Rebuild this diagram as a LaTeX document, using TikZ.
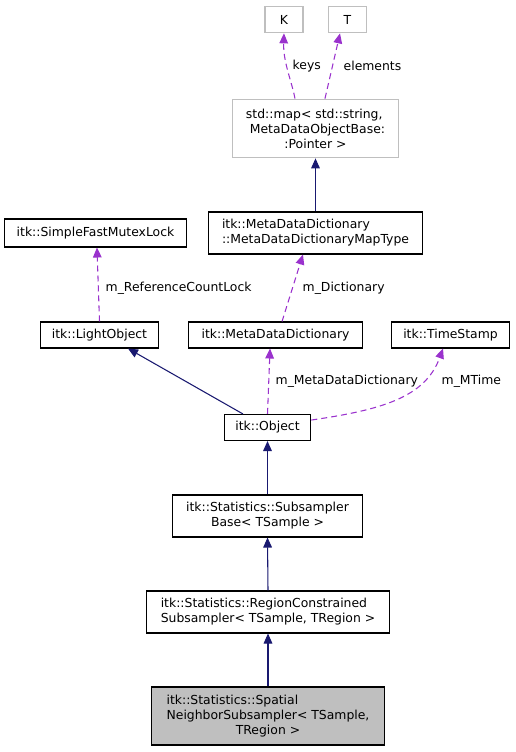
\documentclass[tikz,border=0pt]{standalone}
\usepackage{fontspec}
\setmainfont{DejaVu Sans}
\usetikzlibrary{positioning,arrows.meta}
\definecolor{inhblue}{RGB}{25,25,112}
\definecolor{usepurple}{RGB}{154,50,205}
\definecolor{extgray}{RGB}{191,191,191}

\begin{document}
\begin{tikzpicture}[x=0.75pt, y=-0.75pt, every node/.style={font=\fontsize{9.3}{11.2}\selectfont}]
    \tikzstyle{box}=[draw=black, line width=0.8pt, fill=white, inner sep=0pt, align=left, minimum height=19.5pt]
    \tikzstyle{extbox}=[box, draw=extgray]
    \tikzstyle{inherit}=[draw=inhblue, line width=0.8pt, -{Triangle[length=7.5pt, width=6.5pt]}]
    \tikzstyle{uses}=[draw=usepurple, line width=0.8pt, dash pattern=on 4.5pt off 3pt, -{Triangle[length=7.5pt, width=6.5pt]}]
    \useasboundingbox (0,0) rectangle (515,752);
    % template arguments and the map
    \node[extbox, minimum width=28.5pt, minimum height=20pt] (K) at (284,19.5) {K};
    \node[extbox, minimum width=29pt, minimum height=20pt] (T) at (347.5,19.5) {T};
    \node[extbox, minimum width=125pt, minimum height=44pt] (map) at (315.5,128.5) {std::map< std::string,\\\ MetaDataObjectBase:\\\hfil:Pointer >};
    \node[box, minimum width=160pt, minimum height=31.5pt] (maptype) at (315.5,233) {itk::MetaDataDictionary\\::MetaDataDictionaryMapType};
    % middle row
    \node[box, minimum width=137pt, minimum height=21pt] (mutex) at (95.5,233) {itk::SimpleFastMutexLock};
    \node[box, minimum width=88pt] (light) at (99.5,335) {itk::LightObject};
    \node[box, minimum width=130pt] (dict) at (275.5,335) {itk::MetaDataDictionary};
    \node[box, minimum width=89pt] (stamp) at (450.5,335) {itk::TimeStamp};
    \node[box, minimum width=65pt] (object) at (267.5,427.5) {itk::Object};
    % class chain
    \node[box, minimum width=143pt, minimum height=31.5pt] (base) at (267.5,516) {itk::Statistics::Subsampler\\\hfil Base< TSample >};
    \node[box, minimum width=182pt, minimum height=31.5pt] (region) at (268,612) {itk::Statistics::RegionConstrained\\Subsampler< TSample, TRegion >};
    \node[box, fill=extgray, minimum width=175pt, minimum height=43.5pt] (spatial) at (268,716) {itk::Statistics::Spatial\\NeighborSubsampler< TSample,\\\hfil TRegion >};
    % edge labels
    \node[anchor=west] (lkeys) at (288,66) {keys};
    \node[anchor=west] (lelem) at (339,66) {elements};
    \node[anchor=west] (llock) at (101,288) {m\_ReferenceCountLock};
    \node[anchor=west] (ldict) at (298,288) {m\_Dictionary};
    \node[anchor=west] (lmdd) at (271,381) {m\_MetaDataDictionary};
    \node[anchor=west] (lmtime) at (437,381) {m\_MTime};
    % connectors
    \draw[uses] ([xshift=-15.4pt]map.north) .. controls (292,82) and (283,62) .. (K.south);
    \draw[uses] ([xshift=7.1pt]map.north) -- ([xshift=-5.6pt]T.south);
    \draw[inherit] (maptype.north) -- (map.south);
    \draw[uses] ([xshift=4.9pt]dict.north) -- ([xshift=-9.4pt]maptype.south);
    \draw[uses] (light.north) -- ([xshift=1.1pt]mutex.south);
    \draw[inherit] ([xshift=-18.4pt]object.north) -- ([xshift=21.4pt]light.south);
    \draw[uses] (object.north) -- ([xshift=-4.1pt]dict.south);
    \draw[uses] ([yshift=5.6pt]object.east) .. controls (380,410) and (425,398) .. ([xshift=-5.6pt]stamp.south);
    \draw[inherit] (base.north) -- (object.south);
    \draw[inherit] (region.north) -- (base.south);
    \draw[inherit] (spatial.north) -- (region.south);
\end{tikzpicture}
\end{document}
